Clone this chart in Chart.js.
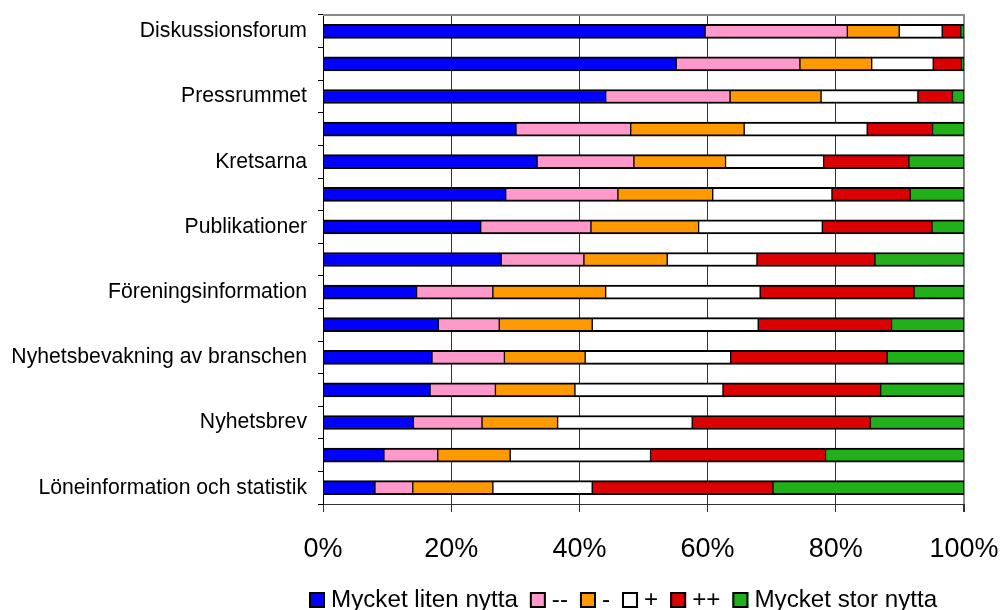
<!DOCTYPE html>
<html>
<head>
<meta charset="utf-8">
<script src="https://cdn.jsdelivr.net/npm/chart.js@4/dist/chart.umd.min.js"></script>
<style>
  html, body { margin: 0; padding: 0; background: #fff; }
  #wrap { width: 1003px; height: 610px; position: relative; }
</style>
</head>
<body>
<div id="wrap"><canvas id="c" width="1003" height="610"></canvas></div>
<script>
// Categories, top to bottom (only every other row carries a printed name)
const categories = [
  'Diskussionsforum', '', 'Pressrummet', '', 'Kretsarna', '', 'Publikationer', '',
  'Föreningsinformation', '', 'Nyhetsbevakning av branschen', '', 'Nyhetsbrev', '',
  'Löneinformation och statistik'
];

// Share of answers (%) per rating
const mycketLiten = [59.6, 55.1, 44.1, 30.1, 33.4, 28.5, 24.6, 27.8, 14.6, 18.0, 17.0, 16.7, 14.1, 9.5, 8.1];
const minusMinus  = [22.2, 19.3, 19.4, 17.9, 15.1, 17.5, 17.2, 12.9, 11.9, 9.5, 11.3, 10.2, 10.7, 8.4, 5.9];
const minus       = [8.1, 11.2, 14.2, 17.7, 14.3, 14.8, 16.8, 13.0, 17.6, 14.5, 12.6, 12.4, 11.8, 11.3, 12.5];
const plus        = [6.7, 9.6, 15.1, 19.2, 15.3, 18.6, 19.3, 14.0, 24.1, 25.9, 22.7, 23.1, 21.0, 21.9, 15.5];
const plusPlus    = [2.9, 4.4, 5.4, 10.2, 13.3, 12.2, 17.1, 18.4, 24.0, 20.8, 24.4, 24.6, 27.8, 27.3, 28.2];
const mycketStor  = [0.5, 0.4, 1.8, 4.9, 8.6, 8.4, 5.0, 13.9, 7.8, 11.3, 12.0, 13.0, 14.6, 21.6, 29.8];

// X-axis tick values
const xTicks = [0, 20, 40, 60, 80, 100];

const seriesNames  = ['Mycket liten nytta', '--', '-', '+', '++', 'Mycket stor nytta'];
const seriesValues = [mycketLiten, minusMinus, minus, plus, plusPlus, mycketStor];
const seriesColors = ['#0000FF', '#FF99CC', '#FF9900', '#FFFFFF', '#DD0000', '#22B01A'];

const FONT = "'Liberation Sans', Arial, sans-serif";

const datasets = seriesNames.map((name, i) => ({
  label: name,
  data: seriesValues[i],
  backgroundColor: seriesColors[i],
  borderColor: '#000',
  borderWidth: { top: 2, bottom: 2, left: 1, right: 1 },
  borderSkipped: false,
  barThickness: 14
}));

// Plot frame (top and right edges) in grey
const frame = {
  id: 'frame',
  beforeDatasetsDraw(chart) {
    const { ctx, chartArea: a } = chart;
    ctx.save();
    ctx.strokeStyle = '#8a8a8a';
    ctx.lineWidth = 2;
    ctx.beginPath();
    ctx.moveTo(a.left, a.top);
    ctx.lineTo(a.right, a.top);
    ctx.lineTo(a.right, a.bottom);
    ctx.stroke();
    ctx.restore();
  }
};

// Legend row under the axis
const legendRow = {
  id: 'legendRow',
  afterDraw(chart) {
    const ctx = chart.ctx;
    ctx.save();
    ctx.font = '24.2px ' + FONT;
    ctx.textBaseline = 'middle';
    ctx.textAlign = 'left';
    let x = 309;
    const yMid = 600;
    const box = 16;
    chart.data.datasets.forEach(ds => {
      ctx.fillStyle = ds.backgroundColor;
      ctx.fillRect(x, yMid - box / 2, box, box);
      ctx.strokeStyle = '#000';
      ctx.lineWidth = 2;
      ctx.strokeRect(x + 1, yMid - box / 2 + 1, box - 2, box - 2);
      x += box + 6;
      ctx.fillStyle = '#000';
      ctx.fillText(ds.label, x, yMid);
      x += ctx.measureText(ds.label).width + 12;
    });
    ctx.restore();
  }
};

new Chart(document.getElementById('c'), {
  type: 'bar',
  data: { labels: categories, datasets },
  options: {
    indexAxis: 'y',
    responsive: false,
    animation: false,
    layout: { padding: { top: 15, right: 39, bottom: 0, left: 0 } },
    plugins: { legend: { display: false }, tooltip: { enabled: false } },
    scales: {
      x: {
        stacked: true,
        min: 0,
        max: 100,
        afterBuildTicks(scale) { scale.ticks = xTicks.map(v => ({ value: v })); },
        afterFit(scale) {
          scale.height = 106;
          scale.paddingLeft = 0;
          scale.paddingRight = 0;
        },
        ticks: {
          callback: v => v + '%',
          color: '#000',
          padding: 21,
          maxRotation: 0,
          font: { family: FONT, size: 27 }
        },
        grid: {
          color: ctx => (ctx.tick && ctx.tick.value === 100 ? '#8a8a8a' : '#333'),
          lineWidth: ctx => (ctx.tick && ctx.tick.value === 100 ? 2 : 1),
          drawTicks: true,
          tickLength: 8,
          tickColor: '#333'
        },
        border: { color: '#333', width: 1 }
      },
      y: {
        stacked: true,
        afterFit(scale) {
          scale.width = 323;
          scale.paddingTop = 0;
          scale.paddingBottom = 0;
        },
        ticks: {
          color: '#000',
          padding: 11,
          autoSkip: false,
          font: { family: FONT, size: 21.2 }
        },
        grid: {
          offset: true,
          drawOnChartArea: false,
          drawTicks: true,
          tickLength: 5,
          color: '#000'
        },
        border: { color: '#000', width: 1 }
      }
    }
  },
  plugins: [frame, legendRow]
});
</script>
</body>
</html>
